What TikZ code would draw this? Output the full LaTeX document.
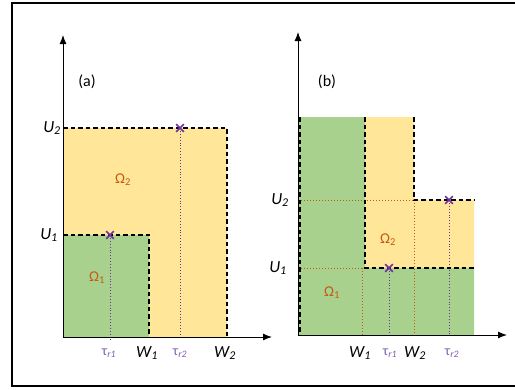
\documentclass[tikz,border=0pt]{standalone}
\usepackage{fontspec}
\setmainfont{Carlito}
\usetikzlibrary{arrows.meta,calc}
\definecolor{fgreen}{HTML}{A9D18E}
\definecolor{fyellow}{HTML}{FFE699}
\definecolor{cpurple}{HTML}{7030A0}
\definecolor{corange}{HTML}{C55A11}
\definecolor{tpurple}{HTML}{7F60B0}
\tikzset{
  axis/.style={line width=1pt,-{Latex[length=9pt,width=7pt]}},
  bound/.style={line width=1.6pt,dash pattern=on 4.5pt off 3pt},
  pdot/.style={cpurple,line width=0.9pt,dotted},
  odot/.style={corange,line width=1pt,dotted},
  xmark/.style={cpurple,line width=1.7pt},
  lbl/.style={font=\fontsize{17}{17}\selectfont\itshape,inner sep=0pt},
  tlbl/.style={font=\fontsize{14}{14}\selectfont,text=tpurple,inner sep=0pt},
  omg/.style={font=\fontsize{15}{15}\selectfont,text=corange,inner sep=0pt},
  tag/.style={font=\fontsize{16}{16}\selectfont,inner sep=0pt},
}
\newcommand{\xcross}[1]{\draw[xmark] ($#1+(-3.8,-3.8)$) -- ($#1+(3.8,3.8)$) ($#1+(-3.8,3.8)$) -- ($#1+(3.8,-3.8)$);}
\begin{document}
\begin{tikzpicture}[x=1pt,y=-1pt]
\useasboundingbox (0,0) rectangle (515,389);
\fill[white] (0,0) rectangle (515,389);
\draw[line width=2.8pt] (12,3) rectangle (530,386);
% ---------- panel (a)
\coordinate (Oa) at (63,337);
\fill[fyellow] (63,128) rectangle (227,337);
\fill[fgreen] (63,235) rectangle (149,337);
\draw[pdot] (110,235) -- (110,340);
\draw[pdot] (180,128) -- (180,337);
\draw[bound] (63,128) -- (227,128) -- (227,337);
\draw[bound] (63,235) -- (149,235) -- (149,337);
\draw[axis] (Oa) -- (63,35);
\draw[axis] (Oa) -- (272,337);
\xcross{(110,235)}
\xcross{(180,128)}
\node[tag] (ta) at (87,82) {(a)};
\node[lbl] (u2a) at (52,128) {U\textsubscript{2}};
\node[lbl] (u1a) at (49,235) {U\textsubscript{1}};
\node[lbl] (w1a) at (147,353) {W\textsubscript{1}};
\node[lbl] (w2a) at (225,353) {W\textsubscript{2}};
\node[tlbl] (t1a) at (109,353) {τ\textsubscript{\itshape r1}};
\node[tlbl] (t2a) at (180,353) {τ\textsubscript{\itshape r2}};
\node[omg] (o2a) at (123,180) {Ω\textsubscript{2}};
\node[omg] (o1a) at (97,278) {Ω\textsubscript{1}};
% ---------- panel (b)
\coordinate (Ob) at (298,335);
\fill[fgreen] (298,117) -- (365,117) -- (365,268) -- (474,268) -- (474,335) -- (298,335) -- cycle;
\fill[fyellow] (365,117) -- (414,117) -- (414,200) -- (474,200) -- (474,268) -- (365,268) -- cycle;
\draw[odot] (298,200) -- (414,200);
\draw[odot] (298,268) -- (365,268);
\draw[odot] (362,268) -- (362,335);
\draw[odot] (414,200) -- (414,335);
\draw[pdot] (389,268) -- (389,335);
\draw[pdot] (449,200) -- (449,335);
\draw[bound] (300,117) -- (300,335);
\draw[bound] (365,117) -- (365,268) -- (474,268);
\draw[bound] (414,117) -- (414,200) -- (474,200);
\draw[axis] (Ob) -- (298,32);
\draw[axis] (Ob) -- (507,335);
\xcross{(389,268)}
\xcross{(449,200)}
\node[tag] (tb) at (327,82) {(b)};
\node[lbl] (u2b) at (280,200) {U\textsubscript{2}};
\node[lbl] (u1b) at (278,268) {U\textsubscript{1}};
\node[lbl] (w1b) at (360,353) {W\textsubscript{1}};
\node[lbl] (w2b) at (415,353) {W\textsubscript{2}};
\node[tlbl] (t1b) at (390,353) {τ\textsubscript{\itshape r1}};
\node[tlbl] (t2b) at (452,353) {τ\textsubscript{\itshape r2}};
\node[omg] (o2b) at (388,240) {Ω\textsubscript{2}};
\node[omg] (o1b) at (332,293) {Ω\textsubscript{1}};
\end{tikzpicture}
\end{document}
